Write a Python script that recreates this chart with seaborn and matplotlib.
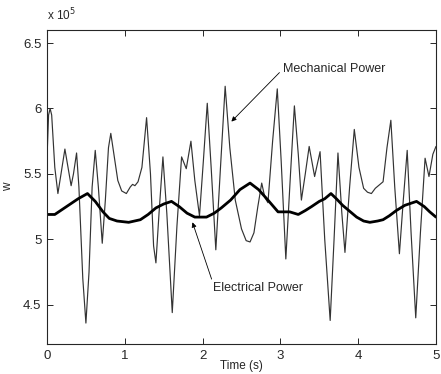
import matplotlib
matplotlib.use("Agg")
import matplotlib.pyplot as plt
import pandas as pd
import seaborn as sns

# values, power in units of 1e5 W
mech_t = [0.00, 0.02, 0.04, 0.06, 0.10, 0.14, 0.18, 0.23, 0.27, 0.31, 0.34, 0.38,
          0.41, 0.46, 0.50, 0.54, 0.58, 0.62, 0.66, 0.71, 0.75, 0.79, 0.82, 0.86,
          0.91, 0.96, 1.02, 1.07, 1.10, 1.13, 1.17, 1.22, 1.28, 1.33, 1.37, 1.40,
          1.44, 1.49, 1.54, 1.61, 1.67, 1.73, 1.79, 1.85, 1.90, 1.96, 2.01, 2.06,
          2.11, 2.17, 2.23, 2.29, 2.35, 2.42, 2.50, 2.56, 2.61, 2.66, 2.71, 2.76,
          2.80, 2.84, 2.90, 2.96, 3.01, 3.07, 3.13, 3.18, 3.23, 3.27, 3.32, 3.37,
          3.44, 3.51, 3.57, 3.64, 3.69, 3.74, 3.79, 3.83, 3.89, 3.95, 4.01, 4.07,
          4.12, 4.17, 4.22, 4.26, 4.32, 4.37, 4.42, 4.47, 4.53, 4.58, 4.63, 4.68,
          4.74, 4.80, 4.86, 4.91, 4.96, 5.00]
mech_p = [5.62, 5.95, 6.00, 5.95, 5.55, 5.35, 5.50, 5.69, 5.55, 5.41, 5.50, 5.66,
          5.40, 4.70, 4.36, 4.75, 5.40, 5.68, 5.40, 4.97, 5.30, 5.70, 5.81, 5.65,
          5.45, 5.37, 5.35, 5.40, 5.42, 5.41, 5.44, 5.55, 5.93, 5.50, 4.95, 4.82,
          5.20, 5.63, 5.20, 4.44, 5.10, 5.63, 5.54, 5.75, 5.45, 5.18, 5.60, 6.04,
          5.55, 4.92, 5.55, 6.17, 5.70, 5.30, 5.08, 4.99, 4.98, 5.05, 5.25, 5.43,
          5.32, 5.28, 5.75, 6.15, 5.60, 4.85, 5.50, 6.02, 5.65, 5.30, 5.50, 5.71,
          5.48, 5.67, 5.00, 4.38, 5.00, 5.66, 5.20, 4.90, 5.40, 5.84, 5.55, 5.39,
          5.36, 5.35, 5.39, 5.41, 5.44, 5.70, 5.91, 5.40, 4.89, 5.30, 5.68, 5.05,
          4.40, 5.05, 5.62, 5.48, 5.65, 5.71]

elec_t = [0.00, 0.10, 0.20, 0.30, 0.40, 0.52, 0.62, 0.72, 0.80, 0.90, 1.05, 1.20,
          1.30, 1.40, 1.50, 1.60, 1.70, 1.80, 1.90, 2.05, 2.15, 2.24, 2.36, 2.48,
          2.61, 2.72, 2.84, 2.97, 3.12, 3.23, 3.32, 3.40, 3.50, 3.57, 3.65, 3.72,
          3.80, 3.90, 3.98, 4.07, 4.15, 4.25, 4.32, 4.40, 4.49, 4.60, 4.75, 4.85,
          4.92, 5.00]
elec_p = [5.19, 5.19, 5.23, 5.27, 5.31, 5.35, 5.29, 5.21, 5.16, 5.14, 5.13, 5.15,
          5.19, 5.24, 5.27, 5.29, 5.25, 5.20, 5.17, 5.17, 5.20, 5.24, 5.30, 5.38,
          5.43, 5.38, 5.30, 5.21, 5.21, 5.19, 5.22, 5.25, 5.29, 5.31, 5.35, 5.31,
          5.26, 5.21, 5.17, 5.14, 5.13, 5.14, 5.15, 5.18, 5.22, 5.26, 5.29, 5.25,
          5.21, 5.17]

x_ticks = [0, 1, 2, 3, 4, 5]
y_ticks = [4.5, 5, 5.5, 6, 6.5]
y_tick_labels = ["4.5", "5", "5.5", "6", "6.5"]

sns.set_style("ticks")
plt.rcParams["font.family"] = ["Liberation Sans", "DejaVu Sans"]

mech = pd.DataFrame({"t": mech_t, "p": mech_p})
elec = pd.DataFrame({"t": elec_t, "p": elec_p})

fig = plt.figure(figsize=(4.41, 3.74), dpi=100)
ax = fig.add_axes([0.1066, 0.0802, 0.882, 0.8396])

sns.lineplot(data=mech, x="t", y="p", ax=ax, color="#333333", linewidth=0.85,
             sort=False, estimator=None)
sns.lineplot(data=elec, x="t", y="p", ax=ax, color="black", linewidth=2.0,
             sort=False, estimator=None)

ax.set_xlim(0, 5)
ax.set_ylim(4.2, 6.6)
ax.set_xticks(x_ticks)
ax.set_yticks(y_ticks)
ax.set_yticklabels(y_tick_labels)
ax.tick_params(direction="in", length=4, width=0.7, labelsize=9.5,
               top=True, right=True, pad=4)
for s in ax.spines.values():
    s.set_linewidth(0.8)
    s.set_visible(True)

ax.set_xlabel("Time (s)", fontsize=8.5)
ax.xaxis.set_label_coords(0.5, -0.052)
ax.set_ylabel("w", fontsize=8.5)
ax.yaxis.set_label_coords(-0.085, 0.5)
ax.text(0.0, 1.02, r"x 10$^5$", transform=ax.transAxes, fontsize=8.5,
        ha="left", va="bottom")

ax.annotate("Mechanical Power", xy=(2.37, 5.90), xytext=(3.03, 6.30),
            fontsize=9, ha="left", va="center",
            arrowprops=dict(arrowstyle="-|>", color="black", lw=0.6,
                            mutation_scale=7, relpos=(0, 0.5),
                            shrinkA=0, shrinkB=0))
ax.annotate("Electrical Power", xy=(1.87, 5.13), xytext=(2.13, 4.625),
            fontsize=9, ha="left", va="center",
            arrowprops=dict(arrowstyle="-|>", color="black", lw=0.6,
                            mutation_scale=7, relpos=(0, 1),
                            shrinkA=0, shrinkB=0))

fig.savefig("out.png", dpi=100)
